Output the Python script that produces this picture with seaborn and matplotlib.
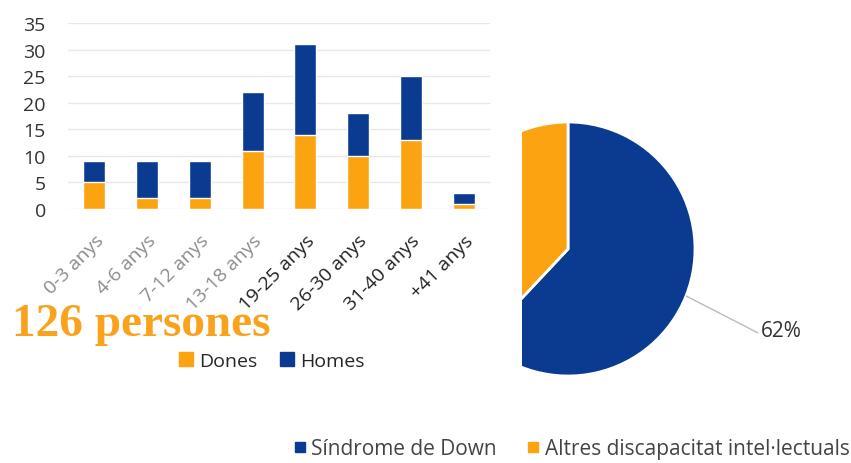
import matplotlib
matplotlib.use("Agg")
import matplotlib.pyplot as plt
from matplotlib.lines import Line2D
import pandas as pd
import seaborn as sns

# age groups and counts per sex
ages = ["0-3 anys", "4-6 anys", "7-12 anys", "13-18 anys",
        "19-25 anys", "26-30 anys", "31-40 anys", "+41 anys"]
dones = [5, 2, 2, 11, 14, 10, 13, 1]
homes = [4, 7, 7, 11, 17, 8, 12, 2]

# pie: type of disability
pie_labels = ["Síndrome de Down", "Altres discapacitat intel·lectuals"]
pie_values = [62, 38]

blue = "#0b3a91"
orange = "#fca311"

sns.set_theme(style="white")
plt.rcParams["font.family"] = ["Open Sans", "DejaVu Sans"]

df = pd.DataFrame({"edat": ages, "Dones": dones, "Homes": homes})
df["total"] = df["Dones"] + df["Homes"]

W, H = 851, 464
fig = plt.figure(figsize=(W / 100, H / 100), dpi=100)

# --- stacked bars (total in blue, women drawn over it in orange)
ax = fig.add_axes([68 / W, 1 - 210 / H, 422 / W, 186 / H])
sns.barplot(data=df, x="edat", y="total", color=blue, width=0.42,
            saturation=1, ax=ax)
sns.barplot(data=df, x="edat", y="Dones", color=orange, width=0.42,
            saturation=1, ax=ax)
ax.set_ylim(0, 35)
ax.set_yticks(range(0, 36, 5))
ax.yaxis.grid(True, color="#e8e8e8", lw=1)
ax.set_axisbelow(True)
sns.despine(ax=ax, left=True, bottom=True)
ax.set_xlabel("")
ax.set_ylabel("")
ax.tick_params(axis="y", length=0, pad=16, labelsize=14, labelcolor="#333333")
ax.tick_params(axis="x", length=0, pad=16)
ax.set_xticks(range(len(ages)))
ax.set_xticklabels(ages, rotation=45, ha="right", rotation_mode="anchor",
                   fontsize=14)
for i, lab in enumerate(ax.get_xticklabels()):
    lab.set_color("#8c8c8c" if i < 4 else "#222222")

fig.text(12 / W, 1 - 336 / H, "126 persones", family="Liberation Serif",
         weight="bold", fontsize=34, color="#f9a21b", va="baseline")

bar_handles = [Line2D([], [], marker="s", ls="", color=orange, markersize=10),
               Line2D([], [], marker="s", ls="", color=blue, markersize=10)]
fig.legend(bar_handles, ["Dones", "Homes"], loc="center",
           bbox_to_anchor=(272 / W, 1 - 362 / H), ncol=2, frameon=False,
           fontsize=14, handlelength=0.7, handletextpad=0.3, columnspacing=1.2)

# --- pie (left part cut off as in the original)
R = 127
cx, cy = 568, 250
ax2 = fig.add_axes([522 / W, 1 - 382 / H, 178 / W, 264 / H])
wedges, _ = ax2.pie(pie_values, colors=[blue, orange], startangle=90,
                    counterclock=False, radius=1,
                    wedgeprops=dict(edgecolor="white", linewidth=2))
for w in wedges:
    w.set_clip_on(True)
ax2.set_xlim(-(cx - 522) / R, (700 - cx) / R)
ax2.set_ylim(-(382 - cy) / R, (cy - 118) / R)
ax2.set_aspect("auto")
ax2.annotate("62%", xy=(0.93, -0.37), xytext=(1.52, -0.64),
             ha="left", va="center", fontsize=15, color="#333333",
             annotation_clip=False,
             arrowprops=dict(arrowstyle="-", color="#bbbbbb", lw=1,
                             shrinkA=0, shrinkB=0, relpos=(0, 0.3)))

pie_handles = [Line2D([], [], marker="s", ls="", color=blue, markersize=7),
               Line2D([], [], marker="s", ls="", color=orange, markersize=7)]
fig.legend(pie_handles, pie_labels, loc="center",
           bbox_to_anchor=(572 / W, 1 - 450 / H), ncol=2, frameon=False,
           fontsize=15, handlelength=0.5, handletextpad=0.3, columnspacing=1.5,
           labelcolor="#444444")

fig.savefig("out.png", dpi=100)
